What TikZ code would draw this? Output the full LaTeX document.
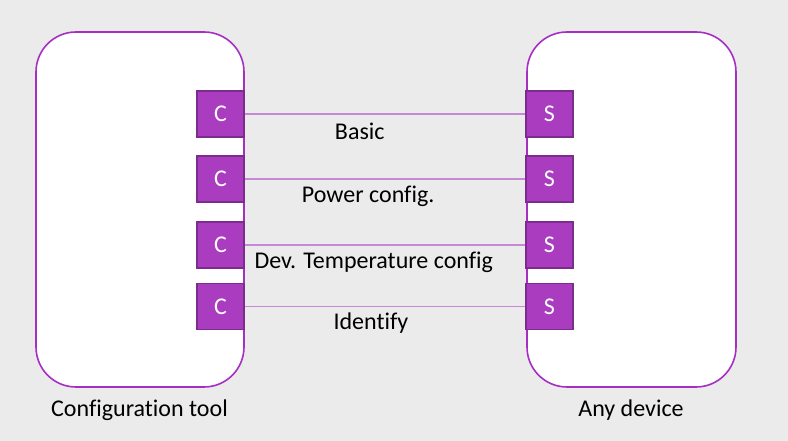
\documentclass[tikz,border=0pt]{standalone}
\usepackage{fontspec}
\setmainfont{Carlito}[Ligatures=CommonOff]
\usetikzlibrary{positioning}
\definecolor{bgcol}{HTML}{EBEBEB}
\definecolor{framecol}{HTML}{A62EC2}
\definecolor{portfill}{HTML}{A93CBF}
\definecolor{portdraw}{HTML}{7B2C8C}
\definecolor{linkcol}{HTML}{C788D6}
\tikzstyle{unit}=[draw=framecol, line width=1.6pt, fill=white, rounded corners=40pt,
  minimum width=208pt, minimum height=355pt, inner sep=0pt]
\tikzstyle{port}=[draw=portdraw, line width=1.4pt, fill=portfill, text=white,
  minimum width=47pt, minimum height=46pt, inner sep=0pt]
\tikzstyle{caption}=[text=black, inner sep=0pt]
\tikzstyle{link}=[draw, line width=1.3pt, color=linkcol]
\newcommand{\portpair}[2]{%
  \path (0,#2) +(220.5,0) node (C#1) [port] {C};
  \path (0,#2) +(549.5,0) node (S#1) [port] {S};}

\begin{document}
\begin{tikzpicture}[x=1pt,y=1pt,font=\fontsize{24}{28}\selectfont]
  \fill[bgcol] (0,0) rectangle (788,441);
  \useasboundingbox (0,0) rectangle (788,441);

  % the two units
  \node (TOOL) [unit] at (140,231.5) {};
  \node (DEVICE) [unit, minimum width=209pt] at (631.5,231.5) {};
  \node (TOOLTXT) [caption] at (139.5,31) {Configuration tool};
  \node (DEVTXT) [caption] at (631,31) {Any device};

  % client and server ports
  \portpair{1}{327}
  \portpair{2}{262}
  \portpair{3}{196}
  \portpair{4}{134.5}

  % links between the ports
  \path [link] (C1.east) -- node [pos=0.41, yshift=-17pt, text=black] {Basic} (S1.west);
  \path [link] (C2.east) -- node [pos=0.44, yshift=-17pt, text=black] {Power config.} (S2.west);
  \path [link] (C3.east) -- node [pos=0.46, yshift=-17pt, text=black] {Dev. Temperature config} (S3.west);
  \path [link] (C4.east) -- node [pos=0.45, yshift=-17pt, text=black] {Identify} (S4.west);

\end{tikzpicture}
\end{document}
